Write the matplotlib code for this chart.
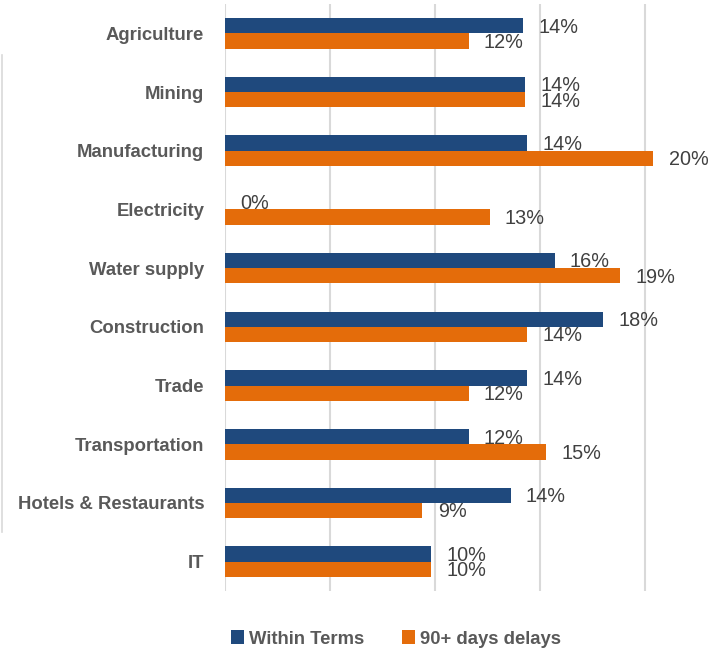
import matplotlib.pyplot as plt
from matplotlib.lines import Line2D

categories = ["Agriculture", "Mining", "Manufacturing", "Electricity", "Water supply",
              "Construction", "Trade", "Transportation", "Hotels & Restaurants", "IT"]
within_terms = [0.142, 0.143, 0.144, 0.0, 0.157, 0.180, 0.144, 0.116, 0.136, 0.098]
delays_90 = [0.116, 0.143, 0.204, 0.126, 0.188, 0.144, 0.116, 0.153, 0.094, 0.098]
series_names = ["Within Terms", "90+ days delays"]

BLUE = "#1F497D"
ORANGE = "#E46C0A"
GRID = "#D9D9D9"

plt.rcParams['font.family'] = ['Liberation Sans', 'DejaVu Sans']

fig = plt.figure(figsize=(7.22, 6.52), dpi=100)
ax = fig.add_axes([225 / 722, 1 - 591 / 652, 1 - 225 / 722, (591 - 4) / 652])

y = list(range(len(categories)))
h = 0.26
b1 = ax.barh([i - h / 2 for i in y], within_terms, height=h, color=BLUE,
             linewidth=0, label=series_names[0])
b2 = ax.barh([i + h / 2 for i in y], delays_90, height=h, color=ORANGE,
             linewidth=0, label=series_names[1])

for bars, vals in ((b1, within_terms), (b2, delays_90)):
    for rect, v in zip(bars, vals):
        ax.annotate(f"{v:.0%}", (v, rect.get_y() + rect.get_height() / 2),
                    xytext=(11, -1), textcoords="offset points",
                    ha="left", va="center", fontsize=14.3, color="#404040")

ax.set_xlim(0, (722 - 225) / 105 * 0.05)
ax.set_ylim(9.5, -0.5)
ax.set_xticks([0, 0.05, 0.10, 0.15, 0.20])
ax.set_xticklabels([])
ax.grid(axis="x", color=GRID, linewidth=1.5)
ax.set_axisbelow(True)
ax.tick_params(axis="both", length=0)
ax.tick_params(axis="y", pad=15)
ax.set_yticks(y)
ax.set_yticklabels(categories, fontsize=13.3, fontweight="bold", color="#595959")
for s in ax.spines.values():
    s.set_visible(False)

# faint border line at the far left
fig.add_artist(Line2D([1.5 / 722, 1.5 / 722], [1 - 55 / 652, 1 - 532 / 652],
                      color=GRID, linewidth=1.2, transform=fig.transFigure))

fig.legend(handles=[b1, b2], labels=series_names, loc="center",
           bbox_to_anchor=(396 / 722, 1 - 639 / 652), ncol=2, frameon=False,
           prop={"size": 13.3, "weight": "bold"}, labelcolor="#595959",
           handlelength=0.7, handleheight=0.75, handletextpad=0.3, columnspacing=2.0)

fig.savefig("out.png", dpi=100)
